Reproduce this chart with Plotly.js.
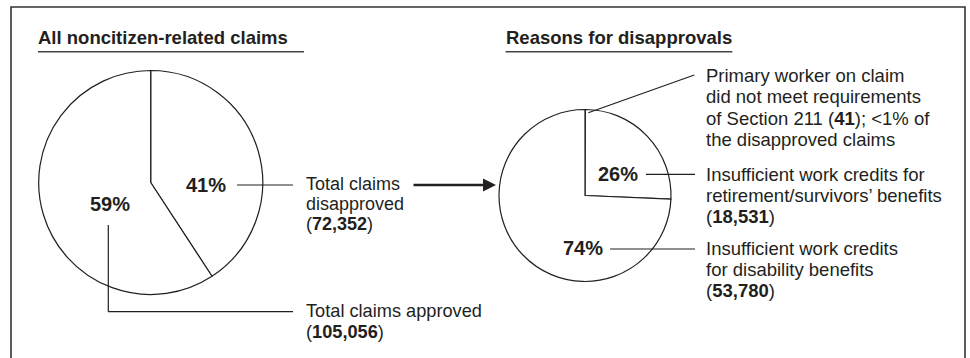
<!DOCTYPE html>
<html>
<head>
<meta charset="utf-8">
<script src="https://cdn.plot.ly/plotly-3.0.1.min.js"></script>
<style>html,body{margin:0;padding:0;background:#fff;}#chart{width:970px;height:358px;}</style>
</head>
<body>
<div id="chart"></div>
<script>
// ---------- data ----------
const overviewTitle = 'All noncitizen-related claims';
const overviewLabels = ['Total claims disapproved', 'Total claims approved'];
const overviewValues = [72352, 105056];
const overviewPct = ['41%', '59%'];
const disapprovedLines = ['Total claims', 'disapproved', '(<b>72,352</b>)'];
const approvedLines = ['Total claims approved', '(<b>105,056</b>)'];

const reasonsTitle = 'Reasons for disapprovals';
const reasonLabels = ['Section 211 requirements not met', 'Retirement/survivors\u2019 work credits', 'Disability work credits'];
const reasonValues = [41, 18531, 53780];
const reasonPct = ['', '26%', '74%'];
const sectionLines = ['Primary worker on claim', 'did not meet requirements', 'of Section 211 (<b>41</b>); &lt;1% of', 'the disapproved claims'];
const retirementLines = ['Insufficient work credits for', 'retirement/survivors\u2019 benefits', '(<b>18,531</b>)'];
const disabilityLines = ['Insufficient work credits', 'for disability benefits', '(<b>53,780</b>)'];

// ---------- layout helpers (pixel -> paper) ----------
const W = 970, H = 358;
const fx = x => x / W;
const fy = y => 1 - y / H;
const INK = '#231f20';
const FONT = 'Liberation Sans, Arial, Helvetica, sans-serif';

function pieDomain(cx, cy, r) {
  return {x: [fx(cx - r), fx(cx + r)], y: [fy(cy + r), fy(cy - r)]};
}

const annotations = [];
function textLines(lines, x, baselines, size) {
  lines.forEach((t, i) => {
    annotations.push({
      xref: 'paper', yref: 'paper', x: fx(x), y: fy(baselines[i] - 0.3465 * size),
      xanchor: 'left', yanchor: 'middle', showarrow: false, text: t, borderpad: 0, borderwidth: 0,
      font: {family: FONT, size: size, color: INK}
    });
  });
}
function label(t, cx, baseline, size) {
  annotations.push({
    xref: 'paper', yref: 'paper', x: fx(cx), y: fy(baseline - 0.3465 * size),
    xanchor: 'center', yanchor: 'middle', showarrow: false, text: '<b>' + t + '</b>',
    borderpad: 0, borderwidth: 0,
    font: {family: FONT, size: size, color: INK}
  });
}

// titles
textLines(['<b>' + overviewTitle + '</b>'], 38, [44.3], 18.5);
textLines(['<b>' + reasonsTitle + '</b>'], 505.5, [43.5], 18.5);

// percentages
label(overviewPct[0], 206, 192.3, 20);
label(overviewPct[1], 110, 210.7, 20);
label(reasonPct[1], 617.5, 181, 20);
label(reasonPct[2], 583.3, 255, 20);

// descriptive text blocks
textLines(disapprovedLines, 306, [190.3, 210.5, 230.7], 18);
textLines(approvedLines, 306, [317.3, 338.3], 18.2);
textLines(sectionLines, 705.5, [81.7, 103.2, 124.8, 146.2], 18.5);
textLines(retirementLines, 705.5, [181, 202, 223], 18.5);
textLines(disabilityLines, 705.5, [255, 276, 297], 18.5);

// arrow from left panel to right panel
annotations.push({
  xref: 'paper', yref: 'paper', x: fx(496), y: fy(185), ax: -84, ay: 0,
  showarrow: true, text: '', arrowhead: 2, arrowsize: 1, arrowwidth: 2.6, arrowcolor: INK, standoff: 0
});

function seg(x0, y0, x1, y1, w, c) {
  return {type: 'line', xref: 'paper', yref: 'paper', x0: fx(x0), y0: fy(y0), x1: fx(x1), y1: fy(y1),
          line: {color: c || INK, width: w || 1.2}};
}
const shapes = [
  // outer frame (bottom runs off the page)
  {type: 'rect', xref: 'paper', yref: 'paper', x0: fx(11), x1: fx(965), y0: -0.2, y1: fy(7),
   line: {color: '#333', width: 1.6}, fillcolor: 'rgba(0,0,0,0)', layer: 'below'},
  // title underlines
  seg(38, 51.8, 304, 51.8, 1.6, '#444'),
  seg(505.5, 51.8, 732.3, 51.8, 1.6, '#444'),
  // leaders, left panel
  seg(237, 185, 293, 185),
  seg(108.3, 225, 108.3, 311.7),
  seg(108.3, 311.7, 293, 311.7),
  // leaders, right panel
  seg(588.3, 112.7, 694.3, 75),
  seg(646, 174.3, 695, 174.3),
  seg(610, 249, 695, 249)
];

const pieStyle = {
  type: 'pie', sort: false, direction: 'clockwise', rotation: 0,
  textinfo: 'none', hoverinfo: 'none', showlegend: false
};

const data = [
  Object.assign({}, pieStyle, {
    labels: overviewLabels, values: overviewValues,
    marker: {colors: overviewValues.map(() => '#ffffff'), line: {color: INK, width: 1.2}},
    domain: pieDomain(150.7, 182.5, 112)
  }),
  Object.assign({}, pieStyle, {
    labels: reasonLabels, values: reasonValues,
    marker: {colors: reasonValues.map(() => '#ffffff'), line: {color: INK, width: 1.2}},
    domain: pieDomain(585, 195.5, 86)
  })
];

const layout = {
  width: W, height: H,
  margin: {l: 0, r: 0, t: 0, b: 0, pad: 0},
  paper_bgcolor: '#ffffff', plot_bgcolor: '#ffffff',
  font: {family: FONT, color: INK},
  annotations: annotations,
  shapes: shapes,
  showlegend: false
};

Plotly.newPlot('chart', data, layout, {staticPlot: true, displayModeBar: false});
</script>
</body>
</html>
